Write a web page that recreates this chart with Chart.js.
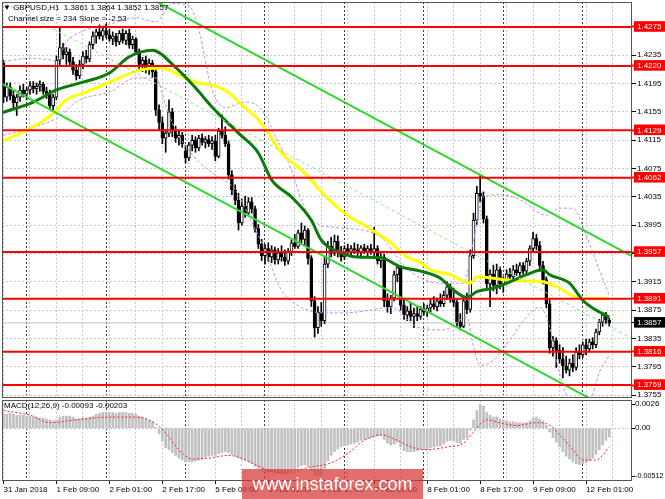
<!DOCTYPE html>
<html><head><meta charset="utf-8">
<script src="https://cdn.jsdelivr.net/npm/chart.js@4.4.0/dist/chart.umd.min.js"></script>
<style>
html,body{margin:0;padding:0;background:#fff;width:665px;height:499px;overflow:hidden;}
#wrap{position:relative;width:665px;height:499px;font-family:"Liberation Sans",Arial,sans-serif;}
canvas{position:absolute;left:0;}
#c1{top:0}
#c2{top:399px}
.t{position:absolute;font-size:8px;color:#000;white-space:pre;line-height:10px;z-index:5;}
#wm{position:absolute;left:242px;top:469px;width:181px;height:30px;background:rgba(214,52,52,0.72);color:#fff;font-size:18px;line-height:30px;text-align:center;z-index:6;}
</style></head>
<body><div id="wrap">
<canvas id="c1" width="665" height="399"></canvas>
<canvas id="c2" width="665" height="100"></canvas>
<div class="t" style="left:3px;top:3px;">▼ GBPUSD,H1  1.3861 1.3864 1.3852 1.3857</div>
<div class="t" style="left:8px;top:14px;">Channel size = 234 Slope = -2.53</div>
<div class="t" style="left:4px;top:401px;">MACD(12,26,9) -0.00093 -0.00203</div>
<div id="wm">www.instaforex.com</div>
</div>
<script>
// ---------- DATA ----------
const OPEN=[
1.4224,1.4176,1.4190,1.4178,1.4168,1.4176,1.4186,1.4180,
1.4186,1.4192,1.4188,1.4191,1.4194,1.4184,1.4180,1.4164,
1.4176,1.4228,1.4246,1.4236,1.4240,1.4226,1.4214,1.4206,
1.4222,1.4234,1.4230,1.4250,1.4262,1.4268,1.4262,1.4270,
1.4264,1.4258,1.4262,1.4254,1.4266,1.4256,1.4266,1.4250,
1.4258,1.4240,1.4222,1.4228,1.4215,1.4224,1.4212,1.4158,
1.4140,1.4118,1.4125,1.4155,1.4128,1.4118,1.4122,1.4100,
1.4090,1.4108,1.4115,1.4104,1.4118,1.4112,1.4116,1.4110,
1.4114,1.4092,1.4128,1.4122,1.4110,1.4066,1.4045,1.4030,
1.3998,1.4022,1.4012,1.4028,1.4018,1.3990,1.3968,1.3952,
1.3962,1.3950,1.3960,1.3946,1.3956,1.3950,1.3944,1.3958,
1.3970,1.3965,1.3984,1.3975,1.3988,1.3948,1.3888,1.3850,
1.3872,1.3860,1.3940,1.3965,1.3955,1.3972,1.3958,1.3950,
1.3962,1.3958,1.3962,1.3960,1.3956,1.3963,1.3958,1.3962,
1.3957,1.3962,1.3945,1.3950,1.3888,1.3880,1.3892,1.3925,
1.3935,1.3882,1.3868,1.3874,1.3866,1.3870,1.3866,1.3876,
1.3872,1.3878,1.3884,1.3880,1.3888,1.3884,1.3896,1.3908,
1.3892,1.3886,1.3858,1.3852,1.3888,1.3876,1.3952,1.4002,
1.4040,1.4036,1.4004,1.3912,1.3926,1.3910,1.3932,1.3912,
1.3918,1.3926,1.3922,1.3932,1.3928,1.3938,1.3930,1.3944,
1.3962,1.3976,1.3966,1.3938,1.3918,1.3884,1.3822,1.3832,
1.3818,1.3806,1.3796,1.3790,1.3800,1.3794,1.3816,1.3812,
1.3826,1.3820,1.3830,1.3826,1.3844,1.3858,1.3868,1.3861];
const HIGH=[
1.4228,1.4196,1.4196,1.4186,1.4180,1.4192,1.4194,1.4190,
1.4198,1.4198,1.4196,1.4199,1.4197,1.4190,1.4186,1.4180,
1.4234,1.4274,1.4252,1.4246,1.4244,1.4232,1.4222,1.4228,
1.4240,1.4242,1.4254,1.4268,1.4272,1.4278,1.4276,1.4279,
1.4272,1.4268,1.4266,1.4270,1.4272,1.4270,1.4272,1.4262,
1.4260,1.4244,1.4232,1.4234,1.4230,1.4228,1.4220,1.4165,
1.4148,1.4130,1.4172,1.4160,1.4135,1.4128,1.4126,1.4108,
1.4112,1.4122,1.4120,1.4122,1.4124,1.4120,1.4122,1.4120,
1.4122,1.4132,1.4151,1.4134,1.4114,1.4072,1.4052,1.4040,
1.4032,1.4036,1.4034,1.4034,1.4022,1.3996,1.3975,1.3968,
1.3970,1.3966,1.3964,1.3962,1.3966,1.3960,1.3962,1.3974,
1.3982,1.3988,1.3998,1.3994,1.3990,1.3952,1.3894,1.3880,
1.3886,1.3950,1.3972,1.3978,1.3981,1.3980,1.3965,1.3966,
1.3968,1.3966,1.3970,1.3968,1.3966,1.3968,1.3966,1.3968,
1.3992,1.3966,1.3955,1.3954,1.3898,1.3896,1.3930,1.3940,
1.3938,1.3890,1.3880,1.3885,1.3878,1.3880,1.3880,1.3884,
1.3882,1.3890,1.3894,1.3892,1.3898,1.3902,1.3915,1.3912,
1.3906,1.3890,1.3870,1.3892,1.3899,1.3960,1.4012,1.4050,
1.4066,1.4042,1.4008,1.3932,1.3938,1.3940,1.3936,1.3922,
1.3932,1.3934,1.3938,1.3940,1.3942,1.3942,1.3948,1.3966,
1.3985,1.3982,1.3972,1.3944,1.3922,1.3890,1.3838,1.3836,
1.3826,1.3822,1.3810,1.3806,1.3812,1.3822,1.3826,1.3830,
1.3834,1.3834,1.3836,1.3848,1.3862,1.3872,1.3872,1.3864];
const LOW=[
1.4168,1.4170,1.4172,1.4160,1.4150,1.4170,1.4176,1.4172,
1.4180,1.4182,1.4180,1.4184,1.4180,1.4174,1.4158,1.4158,
1.4172,1.4222,1.4230,1.4222,1.4220,1.4208,1.4200,1.4202,
1.4216,1.4224,1.4226,1.4244,1.4252,1.4258,1.4256,1.4260,
1.4255,1.4250,1.4248,1.4250,1.4252,1.4250,1.4245,1.4244,
1.4236,1.4215,1.4212,1.4210,1.4208,1.4204,1.4150,1.4130,
1.4110,1.4098,1.4120,1.4120,1.4112,1.4108,1.4105,1.4083,
1.4086,1.4100,1.4098,1.4100,1.4108,1.4104,1.4106,1.4102,
1.4086,1.4090,1.4118,1.4106,1.4060,1.4038,1.4024,1.3988,
1.3995,1.4006,1.4008,1.4012,1.3985,1.3962,1.3945,1.3940,
1.3944,1.3942,1.3940,1.3940,1.3944,1.3938,1.3940,1.3952,
1.3962,1.3962,1.3968,1.3966,1.3940,1.3880,1.3837,1.3842,
1.3852,1.3856,1.3935,1.3950,1.3952,1.3950,1.3944,1.3946,
1.3952,1.3950,1.3955,1.3952,1.3950,1.3955,1.3950,1.3954,
1.3952,1.3940,1.3935,1.3880,1.3872,1.3870,1.3888,1.3915,
1.3875,1.3862,1.3860,1.3860,1.3850,1.3860,1.3862,1.3868,
1.3866,1.3872,1.3876,1.3874,1.3880,1.3880,1.3890,1.3886,
1.3880,1.3852,1.3847,1.3850,1.3870,1.3872,1.3948,1.3996,
1.4028,1.3998,1.3905,1.3880,1.3902,1.3898,1.3905,1.3900,
1.3912,1.3918,1.3918,1.3924,1.3924,1.3926,1.3926,1.3938,
1.3958,1.3960,1.3930,1.3912,1.3878,1.3814,1.3810,1.3794,
1.3800,1.3779,1.3786,1.3782,1.3788,1.3790,1.3806,1.3808,
1.3812,1.3816,1.3820,1.3822,1.3840,1.3852,1.3856,1.3852];
const CLOSE=[
1.4176,1.4190,1.4178,1.4168,1.4176,1.4186,1.4180,1.4186,
1.4192,1.4188,1.4191,1.4194,1.4184,1.4180,1.4164,1.4176,
1.4228,1.4246,1.4236,1.4240,1.4226,1.4214,1.4206,1.4222,
1.4234,1.4230,1.4250,1.4262,1.4268,1.4262,1.4270,1.4264,
1.4258,1.4262,1.4254,1.4266,1.4256,1.4266,1.4250,1.4258,
1.4240,1.4222,1.4228,1.4215,1.4224,1.4212,1.4158,1.4140,
1.4118,1.4125,1.4155,1.4128,1.4118,1.4122,1.4110,1.4090,
1.4108,1.4115,1.4104,1.4118,1.4112,1.4116,1.4110,1.4114,
1.4092,1.4128,1.4122,1.4110,1.4066,1.4045,1.4030,1.3998,
1.4022,1.4012,1.4028,1.4018,1.3990,1.3968,1.3952,1.3962,
1.3950,1.3960,1.3946,1.3956,1.3950,1.3944,1.3958,1.3970,
1.3965,1.3984,1.3975,1.3988,1.3948,1.3888,1.3850,1.3872,
1.3860,1.3940,1.3965,1.3955,1.3972,1.3958,1.3950,1.3962,
1.3958,1.3962,1.3960,1.3956,1.3963,1.3958,1.3962,1.3957,
1.3962,1.3945,1.3950,1.3888,1.3880,1.3892,1.3925,1.3935,
1.3882,1.3868,1.3874,1.3866,1.3870,1.3866,1.3876,1.3872,
1.3878,1.3884,1.3880,1.3888,1.3884,1.3896,1.3908,1.3892,
1.3886,1.3858,1.3852,1.3888,1.3876,1.3952,1.4002,1.4040,
1.4036,1.4004,1.3912,1.3926,1.3910,1.3932,1.3912,1.3918,
1.3926,1.3922,1.3932,1.3928,1.3938,1.3930,1.3944,1.3962,
1.3976,1.3966,1.3938,1.3918,1.3884,1.3822,1.3832,1.3818,
1.3806,1.3796,1.3790,1.3800,1.3794,1.3816,1.3812,1.3826,
1.3820,1.3830,1.3826,1.3844,1.3858,1.3868,1.3861,1.3857];

// moving averages (read at sample bars)
const MA_FAST_IDX=[-1,9,16,24,32,38,45,52,58,63,71,77,81,87,93,96,102,107,114,120,126,132,136,140,143,148,153,158,163,165,171,175,179,183];
const MA_FAST_VAL=[1.4153,1.4169,1.4186,1.4197,1.4210,1.4233,1.4242,1.4218,1.4189,1.4162,1.4125,1.4097,1.4059,1.4035,1.4002,1.3974,1.3956,1.3950,1.3949,1.3936,1.3930,1.3920,1.3903,1.3893,1.3901,1.3906,1.3915,1.3925,1.3932,1.3925,1.3913,1.3889,1.3875,1.3865];
const MA_SLOW_IDX=[-1,9,15,19,25,32,41,48,53,58,65,68,72,77,80,84,89,93,96,103,110,116,122,126,129,135,141,143,148,153,163,168,173,178,183];
const MA_SLOW_VAL=[1.4112,1.4134,1.4153,1.4172,1.4183,1.4197,1.4214,1.4217,1.4207,1.4197,1.4190,1.4182,1.4165,1.4144,1.4125,1.4097,1.4077,1.4059,1.4042,1.4012,1.3992,1.3974,1.3950,1.3942,1.3932,1.3925,1.3913,1.3922,1.3920,1.3917,1.3915,1.3906,1.3893,1.3891,1.3891];
// envelope bands
const BB_UP_IDX=[0,8,16,19,25,32,40,46,51,56,59,63,67,73,78,82,87,90,94,102,111,115,120,126,133,139,142,145,150,156,164,168,172,176,180,183];
const BB_UP_VAL=[1.4226,1.4231,1.4228,1.4254,1.4271,1.4279,1.4288,1.4282,1.4308,1.4305,1.4271,1.4186,1.4161,1.4169,1.4158,1.4122,1.4073,1.4031,1.3999,1.3991,1.3985,1.3974,1.3943,1.3920,1.3913,1.3913,1.3974,1.4035,1.4038,1.4031,1.4009,1.4019,1.4019,1.3981,1.3932,1.3896];
const BB_LO_IDX=[0,8,16,23,32,40,46,49,52,56,59,64,70,75,79,84,90,97,103,111,117,125,133,140,142,144,148,153,158,162,165,167,170,173,177,180,183];
const BB_LO_VAL=[1.4122,1.4132,1.4146,1.4172,1.4183,1.4203,1.4203,1.4165,1.4129,1.4101,1.4084,1.4066,1.4045,1.3999,1.3960,1.3903,1.3879,1.3871,1.3871,1.3875,1.3879,1.3851,1.3847,1.3865,1.3823,1.3797,1.3804,1.3833,1.3865,1.3879,1.3851,1.3804,1.3755,1.3720,1.3741,1.3787,1.3811];
// regression channel
const CH_IDX=[-1,190];
const CH_UPPER=[1.4429,1.3951];
const CH_MID=[1.43125,1.38345];
const CH_LOWER=[1.4196,1.3718];
// horizontal levels
const LEVELS=[1.4275,1.4220,1.4129,1.4062,1.3957,1.3891,1.3816,1.3769];
const LAST_PRICE=1.3857;
const SPAN_IDX=[-1,191];
const PRICE_TICKS=[1.4275,1.4235,1.4195,1.4155,1.4115,1.4075,1.4035,1.3995,1.3955,1.3915,1.3875,1.3835,1.3795,1.3755];
const HIDDEN_PRICE_LABELS=[1.3955];
// MACD
const MACD_HIST=[
0.0015,0.0015,0.0016,0.0015,0.0014,0.0014,0.0014,0.0013,
0.0013,0.0012,0.0012,0.0011,0.0011,0.0010,0.0009,0.0008,
0.0009,0.0012,0.0013,0.0013,0.0013,0.0012,0.0010,0.0010,
0.0011,0.0011,0.0012,0.0013,0.0015,0.0016,0.0017,0.0017,
0.0017,0.0017,0.0016,0.0017,0.0017,0.0017,0.0016,0.0016,
0.0015,0.0013,0.0012,0.0010,0.0009,0.0007,0.0001,-0.0006,
-0.0014,-0.0021,-0.0023,-0.0026,-0.0029,-0.0032,-0.0034,-0.0036,
-0.0036,-0.0036,-0.0035,-0.0034,-0.0033,-0.0031,-0.0030,-0.0029,
-0.0029,-0.0027,-0.0026,-0.0025,-0.0026,-0.0028,-0.0030,-0.0032,
-0.0033,-0.0034,-0.0036,-0.0038,-0.0041,-0.0043,-0.0045,-0.0046,
-0.0047,-0.0047,-0.0048,-0.0048,-0.0048,-0.0049,-0.0048,-0.0046,
-0.0044,-0.0042,-0.0040,-0.0039,-0.0041,-0.0045,-0.0050,-0.00512,
-0.0050,-0.0043,-0.0035,-0.0029,-0.0025,-0.0022,-0.0020,-0.0019,
-0.0018,-0.0017,-0.0016,-0.0015,-0.0013,-0.0012,-0.0011,-0.0010,
-0.0009,-0.0008,-0.0008,-0.0012,-0.0016,-0.0018,-0.0017,-0.0015,
-0.0020,-0.0024,-0.0025,-0.0025,-0.0025,-0.0024,-0.0023,-0.0023,
-0.0022,-0.0021,-0.0020,-0.0019,-0.0019,-0.0017,-0.0014,-0.0013,
-0.0013,-0.0015,-0.0016,-0.0012,-0.0010,-0.0002,0.0009,0.0019,
0.0026,0.0024,0.0017,0.0014,0.0012,0.0012,0.0010,0.0009,
0.0008,0.0007,0.0007,0.0006,0.0006,0.0006,0.0006,0.0008,
0.0011,0.0012,0.0010,0.0008,0.0003,-0.0004,-0.0010,-0.0015,
-0.0020,-0.0025,-0.0030,-0.0033,-0.0036,-0.0038,-0.0039,-0.0038,
-0.0037,-0.0035,-0.0032,-0.0028,-0.0023,-0.0018,-0.0013,-0.00093];
const SIGNAL_IDX=[0,8,14,22,32,40,46,49,53,57,62,68,71,75,80,86,92,99,104,109,114,119,124,128,134,139,142,146,151,155,161,164,168,172,175,179,183];
const SIGNAL_VAL=[0.0019,0.0014,0.0006,0.0009,0.0012,0.0012,0.0005,-0.0005,-0.0023,-0.0033,-0.0032,-0.0029,-0.0031,-0.0037,-0.0045,-0.0048,-0.0042,-0.0037,-0.0027,-0.0013,-0.0007,-0.0013,-0.0021,-0.0023,-0.0020,-0.0016,-0.0004,0.0009,0.0005,0.0003,0.0006,0.0005,-0.0007,-0.0023,-0.0034,-0.0034,-0.00203];
const MACD_TICKS=[0.0026,0,-0.00512];
const MACD_TICK_LABELS=['0.0026','0.00','-0.00512'];
// time axis
const XLABEL_IDX=[0,16,32,48,64,80,96,112,128,144,160,176];
const XLABELS=['31 Jan 2018','1 Feb 09:00','2 Feb 01:00','2 Feb 17:00','5 Feb 09:00','6 Feb 01:00','6 Feb 17:00','7 Feb 09:00','8 Feb 01:00','8 Feb 17:00','9 Feb 09:00','12 Feb 01:00'];
const GRID_IDX=[0,8,16,24,32,40,48,56,64,72,80,88,96,104,112,120,128,136,144,152,160,168,176,184];
const MIDNIGHT_IDX=[7,31,55,79,103,127,151,175];

// ---------- CHART ----------
const FONT='"Liberation Sans", Arial, sans-serif';
const XMIN=-0.45, XMAX=189.88;
const near=(a,b)=>Math.abs(a-b)<1e-7;
const isLevel=v=>LEVELS.some(l=>near(l,v));
const isLast=v=>near(v,LAST_PRICE);
const pts=(xs,ys)=>xs.map((x,k)=>({x:x,y:ys[k]}));
const TRANSP='rgba(0,0,0,0)';

const frame={id:'frame',afterDraw(chart){const a=chart.chartArea,ctx=chart.ctx;ctx.save();ctx.strokeStyle='#555';ctx.lineWidth=1;ctx.strokeRect(Math.round(a.left)+0.5,Math.round(a.top)+0.5,Math.round(a.right-a.left)-1,Math.round(a.bottom-a.top)-1);ctx.restore();}};

function xScale(labels){
  return {
    type:'linear',min:XMIN,max:XMAX,position:'bottom',offset:false,
    afterBuildTicks(s){s.ticks=GRID_IDX.concat(MIDNIGHT_IDX).sort((a,b)=>a-b).map(v=>({value:v}));},
    afterFit(s){s.height=labels?18:0;s.paddingLeft=0;s.paddingRight=0;},
    grid:{offset:false,color:c=>MIDNIGHT_IDX.includes(c.tick&&c.tick.value)?'#3c3c3c':'#c8c8c8',lineWidth:1,drawTicks:labels,tickLength:3,
      tickColor:c=>XLABEL_IDX.includes(c.tick&&c.tick.value)?'#000':TRANSP,tickBorderDash:[]},
    border:{display:false,dash:[2,2]},
    ticks:{display:labels,autoSkip:false,maxRotation:0,minRotation:0,align:'start',padding:1,color:'#000',font:{family:FONT,size:8},
      callback:v=>{const k=XLABEL_IDX.indexOf(v);return k>=0?XLABELS[k]:'';}}
  };
}

const idx=CLOSE.map((_,i)=>i);
const mainDatasets=[
  {type:'line',data:pts(SPAN_IDX,[LAST_PRICE,LAST_PRICE]),borderColor:'#c4c4c4',borderWidth:1,pointRadius:0,order:12},
  {type:'bar',data:idx.map(i=>({x:i,y:[LOW[i],HIGH[i]]})),backgroundColor:'#000',barThickness:1,grouped:false,order:10},
  {type:'bar',data:idx.map(i=>({x:i,y:[OPEN[i],CLOSE[i]]})),backgroundColor:c=>CLOSE[c.dataIndex]>=OPEN[c.dataIndex]?'#fff':'#000',
    borderColor:'#000',borderWidth:1,borderSkipped:false,barThickness:3,grouped:false,minBarLength:1,order:9},
  {type:'line',data:pts(BB_UP_IDX,BB_UP_VAL),borderColor:'#c48ef0',borderWidth:1,borderDash:[3,2],pointRadius:0,cubicInterpolationMode:'monotone',order:7},
  {type:'line',data:pts(BB_LO_IDX,BB_LO_VAL),borderColor:'#c48ef0',borderWidth:1,borderDash:[3,2],pointRadius:0,cubicInterpolationMode:'monotone',order:7},
  {type:'line',data:pts(MA_SLOW_IDX,MA_SLOW_VAL),borderColor:'#ffff00',borderWidth:3,pointRadius:0,cubicInterpolationMode:'monotone',order:6},
  {type:'line',data:pts(MA_FAST_IDX,MA_FAST_VAL),borderColor:'#0a7a0a',borderWidth:3,pointRadius:0,cubicInterpolationMode:'monotone',order:5},
  {type:'line',data:pts(CH_IDX,CH_MID),borderColor:'#7ee87e',borderWidth:1,borderDash:[3,3],pointRadius:0,order:4},
  {type:'line',data:pts(CH_IDX,CH_UPPER),borderColor:'#2fd82f',borderWidth:2,pointRadius:0,order:4},
  {type:'line',data:pts(CH_IDX,CH_LOWER),borderColor:'#2fd82f',borderWidth:2,pointRadius:0,order:4}
].concat(LEVELS.map(L=>({type:'line',data:pts(SPAN_IDX,[L,L]),borderColor:'#ff0000',borderWidth:2,pointRadius:0,order:1})));

const common={responsive:false,animation:false,events:[],
  plugins:{legend:{display:false},tooltip:{enabled:false}}};

new Chart(document.getElementById('c1'),{
  type:'bar',
  data:{datasets:mainDatasets},
  options:Object.assign({},common,{
    layout:{padding:{left:2,top:2,right:0,bottom:1},autoPadding:false},
    scales:{
      x:xScale(false),
      y:{type:'linear',position:'right',min:1.37508,max:1.43103,beginAtZero:false,
        afterBuildTicks(s){
          const all=PRICE_TICKS.filter(v=>!isLevel(v)).concat(LEVELS,[LAST_PRICE]).sort((a,b)=>b-a);
          s.ticks=all.map(v=>({value:v}));
        },
        afterFit(s){s.width=33;s.paddingTop=0;s.paddingBottom=0;},
        grid:{color:c=>{const v=c.tick&&c.tick.value;return (isLevel(v)||isLast(v))?TRANSP:'#c8c8c8';},
          tickLength:4,tickColor:c=>{const v=c.tick&&c.tick.value;return isLevel(v)?'#ff0000':'#000';},
          tickWidth:c=>{const v=c.tick&&c.tick.value;return isLevel(v)?2:1;},tickBorderDash:[]},
        border:{display:false,dash:[2,2]},
        ticks:{autoSkip:false,padding:1,font:{family:FONT,size:8},
          color:c=>{const v=c.tick&&c.tick.value;return (isLevel(v)||isLast(v))?'#fff':'#000';},
          showLabelBackdrop:true,
          backdropColor:c=>{const v=c.tick&&c.tick.value;return isLevel(v)?'#ff0000':(isLast(v)?'#000':TRANSP);},
          backdropPadding:{top:1,bottom:0,left:3,right:4},
          callback:v=>HIDDEN_PRICE_LABELS.some(h=>near(h,v))?'':v.toFixed(4)}
      }
    }
  }),
  plugins:[frame]
});

new Chart(document.getElementById('c2'),{
  type:'bar',
  data:{datasets:[
    {type:'line',data:pts(SIGNAL_IDX,SIGNAL_VAL),borderColor:'#ff2020',borderWidth:1,borderDash:[2,2],pointRadius:0,cubicInterpolationMode:'monotone',order:1},
    {type:'bar',data:idx.map(i=>({x:i,y:MACD_HIST[i]})),backgroundColor:'#c0c0c0',barThickness:2,grouped:false,order:2}
  ]},
  options:Object.assign({},common,{
    layout:{padding:{left:2,top:1,right:0,bottom:0},autoPadding:false},
    scales:{
      x:xScale(true),
      y:{type:'linear',position:'right',min:-0.00565,max:0.00303,beginAtZero:false,
        afterBuildTicks(s){s.ticks=MACD_TICKS.map(v=>({value:v}));},
        afterFit(s){s.width=33;s.paddingTop=0;s.paddingBottom=0;},
        grid:{color:c=>(c.tick&&c.tick.value===0)?'#c8c8c8':TRANSP,tickLength:3,tickColor:'#000',tickBorderDash:[]},
        border:{display:false,dash:[2,2]},
        ticks:{autoSkip:false,padding:0,color:'#000',
          font:c=>({family:FONT,size:(c.tick&&c.tick.value<-0.005)?7.2:8}),
          callback:v=>{const k=MACD_TICKS.findIndex(t=>near(t,v));return k>=0?MACD_TICK_LABELS[k]:'';}}
      }
    }
  }),
  plugins:[frame]
});
</script>
</body></html>
